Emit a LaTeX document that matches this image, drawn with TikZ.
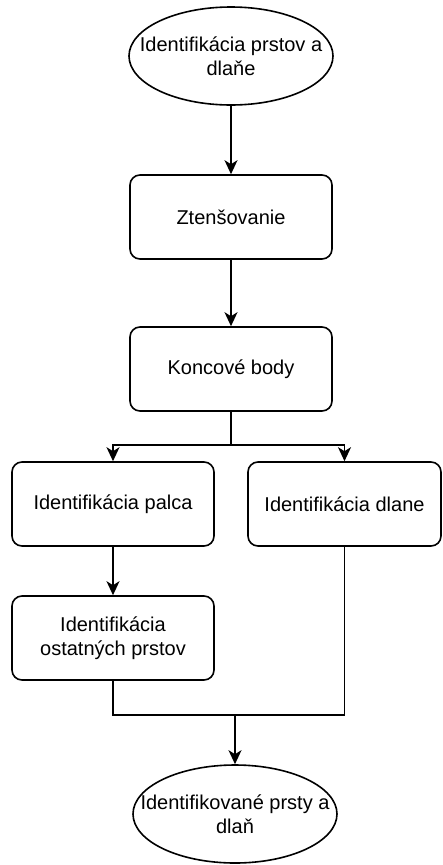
\documentclass[tikz,border=0pt]{standalone}
\usepackage{fontspec}
\setmainfont{Liberation Sans}
\usetikzlibrary{shapes.geometric,arrows.meta}

\begin{document}
\begin{tikzpicture}
  [
    x=1pt, y=-1pt,
    line width=1.6pt,
    font=\fontsize{20}{23.5}\selectfont,
    >={Stealth[length=14pt, width=13pt, inset=4pt]},
    stepbox/.style =
      {draw, rectangle, rounded corners=10pt, align=center,
       minimum width=202pt, minimum height=84pt, inner sep=0pt},
    term/.style =
      {draw, ellipse, align=center, minimum width=204pt,
       minimum height=98pt, inner xsep=-40pt, inner ysep=0pt}
  ]
  \useasboundingbox (0,0) rectangle (443,865);

  \node [term]    at (231,56)  (tp) {Identifikácia prstov a\\dlaňe};
  \node [stepbox] at (231,217) (zt) {Ztenšovanie};
  \node [stepbox] at (231,369) (kb) {Koncové body};
  \node [stepbox] at (113,504) (pa) {Identifikácia palca};
  \node [stepbox, minimum width=193pt] at (344.5,504) (dl) {Identifikácia dlane};
  \node [stepbox] at (113,638) (os) {Identifikácia\\ostatných prstov};
  \node [term]    at (235,814) (bt) {Identifikované prsty a\\dlaň};

  \coordinate (sp) at (231,445);
  \coordinate (mg) at (bt.north |- 0,715);

  \draw[->] (tp.south) -- (zt.north);
  \draw[->] (zt.south) -- (kb.north);
  \draw     (kb.south) -- (sp);
  \draw[->] (sp)       -| (pa.north);
  \draw[->] (sp)       -| (dl.north);
  \draw[->] (pa.south) -- (os.north);
  \draw     (os.south) |- (mg);
  \draw     (dl.south) |- (mg);
  \draw[->] (mg)       -- (bt.north);
\end{tikzpicture}
\end{document}
